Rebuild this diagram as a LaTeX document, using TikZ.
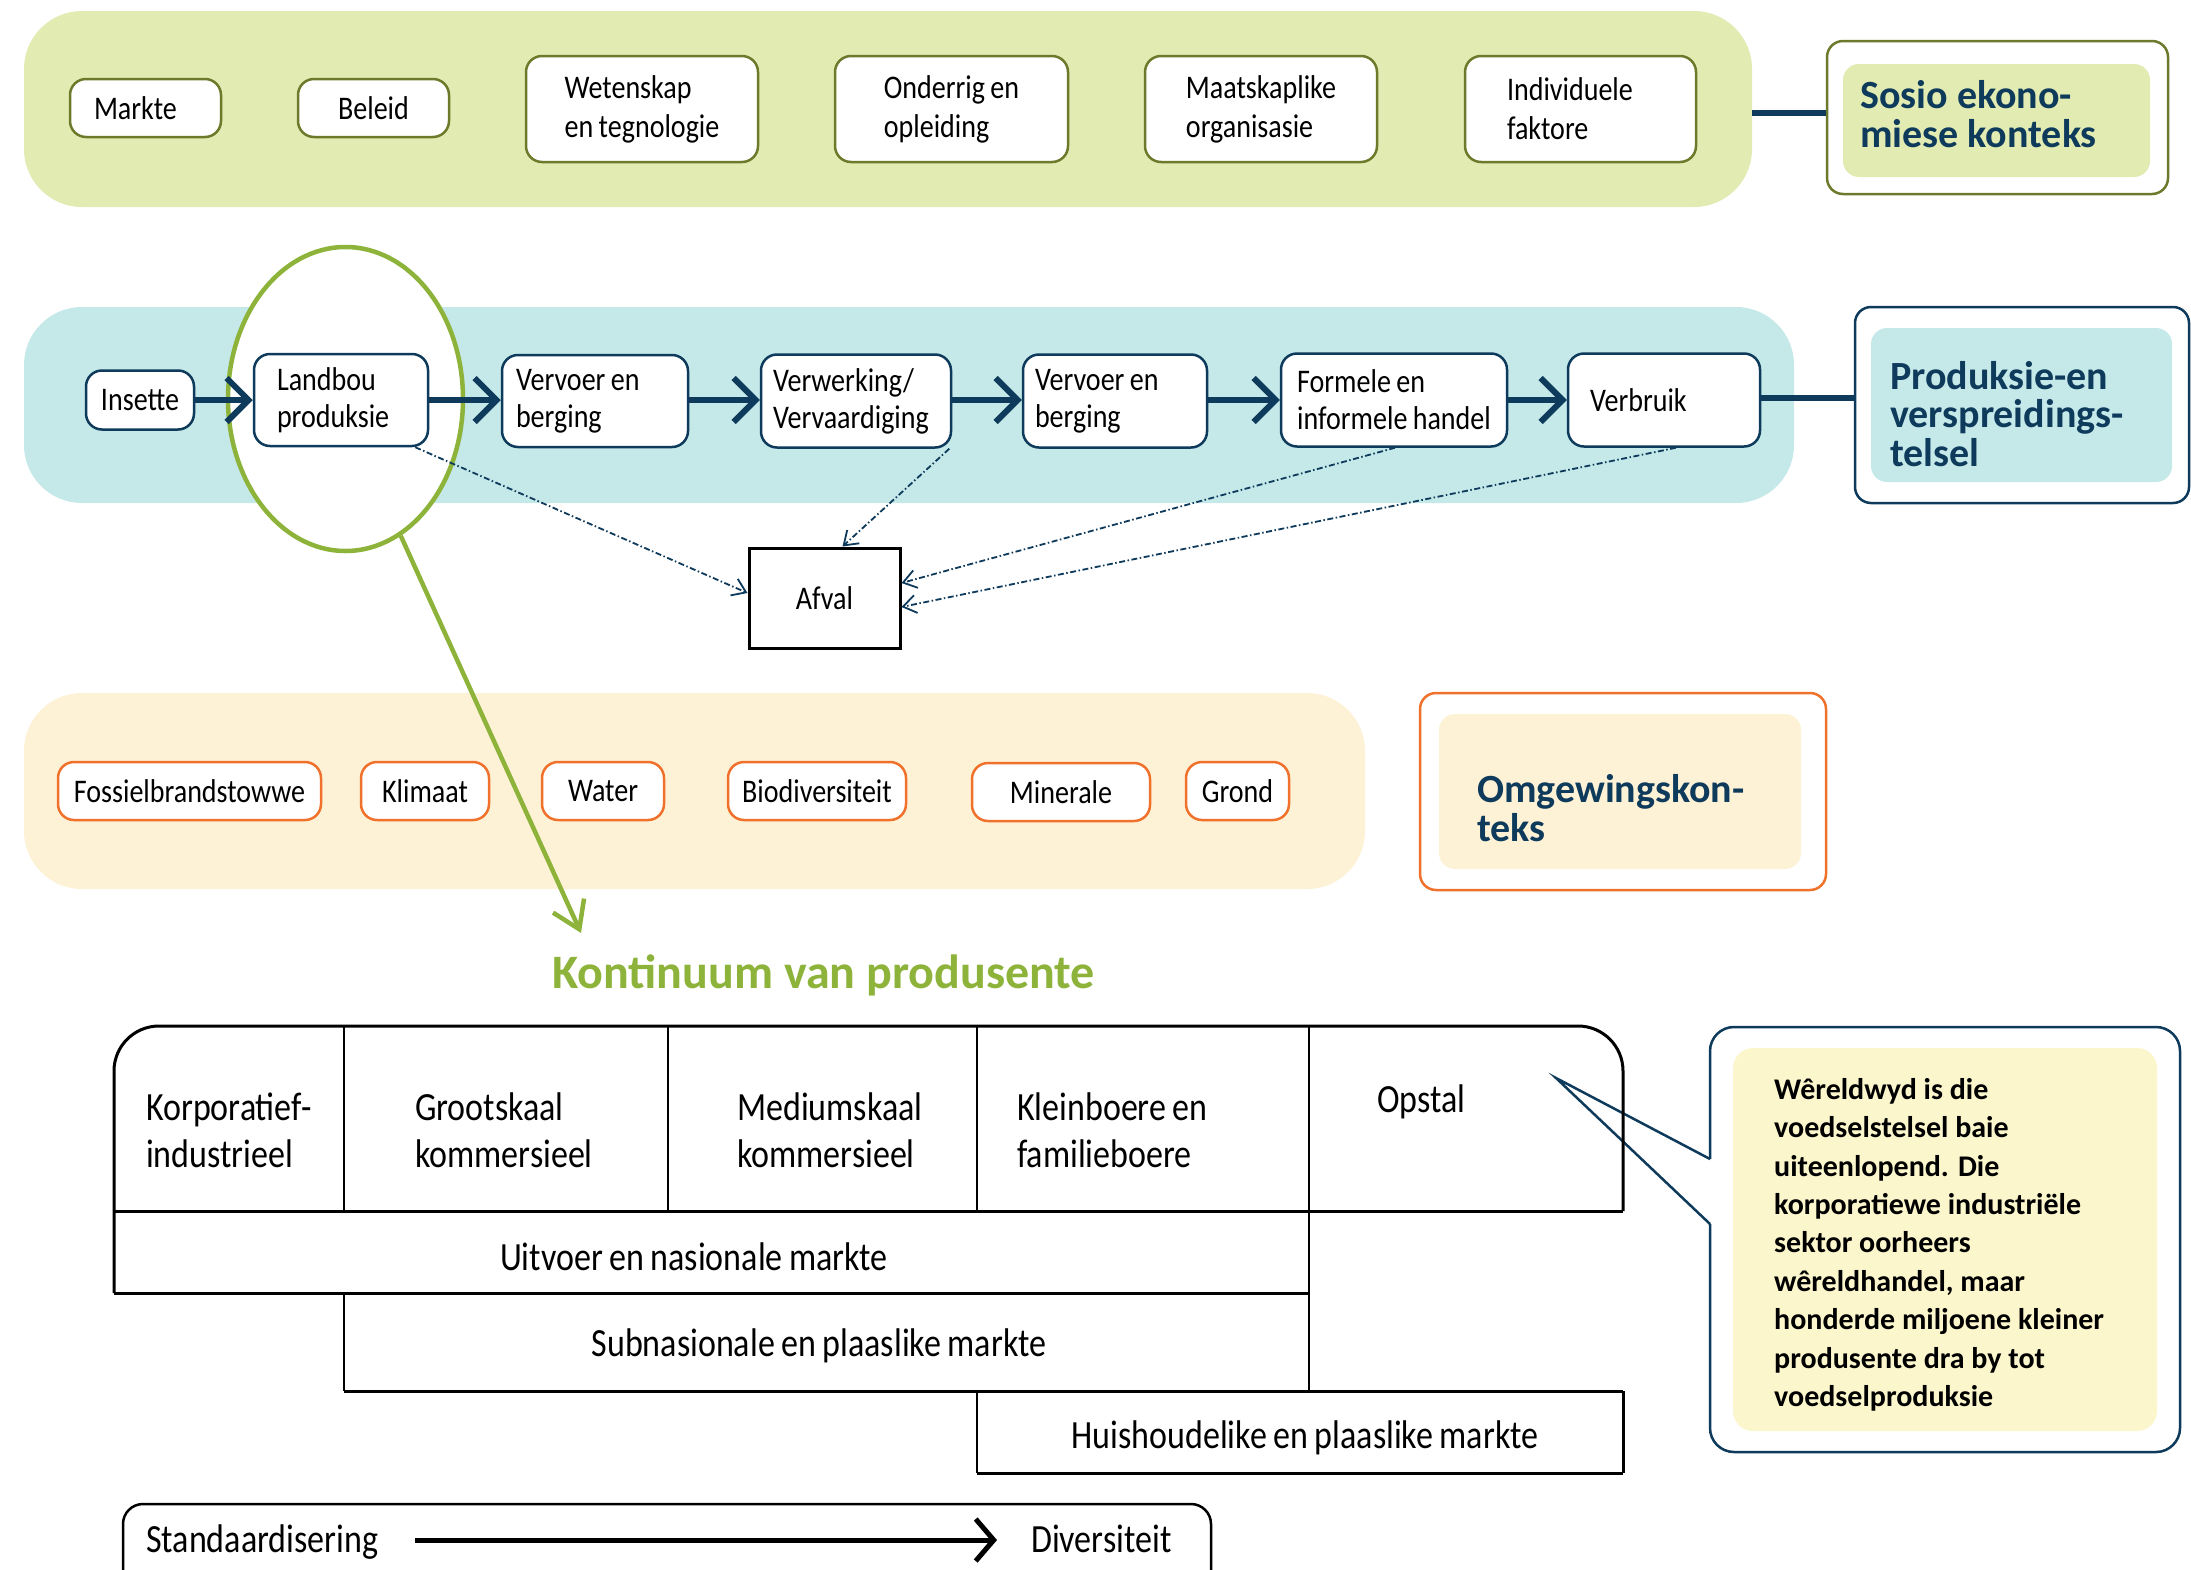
\documentclass[tikz,border=0pt]{standalone}
\usepackage{fontspec}
\setmainfont{Carlito}[FakeStretch=0.85, WordSpace=0.85]
\newfontfamily\hfont{Carlito}
\usetikzlibrary{arrows.meta,shapes.geometric,calc}
\definecolor{navy}{RGB}{14,58,91}
\definecolor{olivebd}{RGB}{109,122,44}
\definecolor{bandgreen}{RGB}{226,235,178}
\definecolor{bandteal}{RGB}{197,232,233}
\definecolor{bandcream}{RGB}{254,242,214}
\definecolor{orangebd}{RGB}{240,113,44}
\definecolor{leaf}{RGB}{141,179,58}
\definecolor{calloutfill}{RGB}{252,246,204}
\newcommand\fsz[2]{\fontsize{#1}{#2}\selectfont}
\tikzset{
  band/.style={fill=#1, draw=none, rounded corners=58pt, inner sep=0pt},
  topbox/.style={draw=olivebd, line width=2.5pt, fill=white, rounded corners=16pt, align=flush left, inner ysep=0pt, font=\fsz{33}{39}},
  midbox/.style={draw=navy, line width=2.5pt, fill=white, rounded corners=16pt, align=flush left, inner ysep=0pt, font=\fsz{33}{37}},
  envbox/.style={draw=orangebd, line width=2.5pt, fill=white, rounded corners=16pt, align=center, inner sep=0pt, minimum height=58pt, font=\fsz{33}{39}},
  ctxouter/.style={draw=#1, line width=2.5pt, fill=white, rounded corners=16pt, inner sep=0pt},
  ctxinner/.style={fill=#1, rounded corners=16pt, inner sep=0pt},
  ctxtext/.style={anchor=west, align=left, inner sep=0pt, text=navy, font=\hfont\bfseries\fsz{40}{38.5}},
  flow/.style={draw=navy, line width=6pt, -{Straight Barb[length=22pt,width=44pt]}},
  link/.style={draw=navy, line width=6pt},
  waste/.style={draw=navy, line width=1.8pt, dash pattern=on 6pt off 2.5pt on 1.5pt off 2.5pt, -{Straight Barb[length=13pt,width=18pt]}},
  lbl/.style={inner sep=0pt, align=left, font=\fsz{40}{47}},
  tline/.style={line width=3pt},
  tdiv/.style={line width=2pt},
}
\begin{document}
\begin{tikzpicture}[x=1pt,y=-1pt]
\useasboundingbox (0,0) rectangle (2191,1569);
\clip (0,0) rectangle (2191,1569);
\fill[white] (0,0) rectangle (2191,1569);

% ---------- socio-economic band ----------
\node[band=bandgreen, minimum width=1728pt, minimum height=196pt] (topband) at (888,109) {};
\node[topbox, text width=103pt, inner xsep=24pt, minimum height=58pt] (markte) at (145.5,108) {Markte};
\node[topbox, text width=91pt, inner xsep=30pt, minimum height=58pt, align=center] (beleid) at (373.5,108) {Beleid};
\node[topbox, inner xsep=0pt, minimum width=232pt, minimum height=106pt] (wet) at (642,109) {Wetenskap\\en tegnologie};
\node[topbox, inner xsep=0pt, minimum width=233pt, minimum height=106pt] (onder) at (951.5,109) {Onderrig en\\opleiding};
\node[topbox, inner xsep=0pt, minimum width=232pt, minimum height=106pt] (maat) at (1261,109) {Maatskaplike\\organisasie};
\node[topbox, text width=147pt, inner xsep=42pt, minimum height=106pt] (indiv) at (1580.5,109) {Individuele\\faktore};

\node[ctxouter=olivebd, minimum width=341pt, minimum height=153pt] (sosio) at (1997.5,117.5) {};
\node[ctxinner=bandgreen, minimum width=307pt, minimum height=113pt] (sosioin) at (1996.5,120.5) {};
\node[ctxtext] (sosiot) at (1860,114) {Sosio ekono-\\miese konteks};
\draw[link] (topband.east |- 0,113) -- (sosio.west |- 0,113);

% ---------- production band ----------
\node[band=bandteal, minimum width=1770pt, minimum height=196pt] (midband) at (909,405) {};
\node[draw=leaf, line width=4.5pt, fill=white, ellipse, minimum width=235pt, minimum height=304pt, inner sep=0pt] (ell) at (345.5,399) {};

\node[midbox, text width=88pt, inner xsep=10pt, minimum height=59pt, align=center] (insette) at (140,400) {Insette};
\node[midbox, text width=128pt, inner xsep=23pt, minimum height=92pt] (landbou) at (341,400) {Landbou\\produksie};
\node[midbox, text width=158pt, inner xsep=14pt, minimum height=92pt] (vervoer1) at (595,401) {Vervoer en\\berging};
\node[midbox, text width=166pt, inner xsep=12pt, minimum height=93pt] (verwerk) at (856,401) {Verwerking/\\Vervaardiging};
\node[midbox, text width=160pt, inner xsep=12pt, minimum height=93pt] (vervoer2) at (1115,401) {Vervoer en\\berging};
\node[midbox, inner xsep=0pt, minimum width=226pt, minimum height=93pt] (handel) at (1394,400) {Formele en\\informele handel};
\node[midbox, text width=148pt, inner xsep=22pt, minimum height=93pt] (verbruik) at (1664,400) {Verbruik};

\draw[flow] (insette.east) -- (landbou.west |- insette.east);
\draw[flow] (landbou.east) -- (vervoer1.west |- landbou.east);
\draw[flow] (vervoer1.east |- landbou.east) -- (verwerk.west |- landbou.east);
\draw[flow] (verwerk.east |- landbou.east) -- (vervoer2.west |- landbou.east);
\draw[flow] (vervoer2.east |- landbou.east) -- (handel.west |- landbou.east);
\draw[flow] (handel.east) -- (verbruik.west);

\node[ctxouter=navy, minimum width=334pt, minimum height=196pt] (prod) at (2022,405) {};
\node[ctxinner=bandteal, minimum width=301pt, minimum height=154pt] (prodin) at (2021.5,405) {};
\node[ctxtext] (prodt) at (1890,414) {Produksie-en\\verspreidings-\\telsel};
\draw[link] (verbruik.east |- 0,398) -- (prod.west |- 0,398);

\node[draw=black, line width=3pt, fill=white, minimum width=151pt, minimum height=100pt, font=\fsz{33}{39}] (afval) at (824.5,598) {Afval};
\draw[waste] ([xshift=-14pt]landbou.south east) -- ([yshift=5pt]afval.west);
\draw[waste] ([xshift=-3pt]verwerk.south east) -- ([xshift=18pt]afval.north);
\draw[waste] ([xshift=1pt]handel.south) -- ([yshift=15pt]afval.east);
\draw[waste] ([xshift=12pt]verbruik.south) -- ([yshift=-9pt]afval.east);

% ---------- environmental band ----------
\node[band=bandcream, minimum width=1341pt, minimum height=196pt] (botband) at (694.5,791) {};
\node[envbox, minimum width=263pt] (fossiel) at (189.5,791) {Fossielbrandstowwe};
\node[envbox, minimum width=128pt] (klimaat) at (425,791) {Klimaat};
\node[envbox, minimum width=122pt] (water) at (603,791) {Water};
\node[envbox, minimum width=178pt] (bio) at (817,791) {Biodiversiteit};
\node[envbox, minimum width=178pt] (minerale) at (1061,792) {Minerale};
\node[envbox, minimum width=103pt] (grond) at (1237.5,791) {Grond};

\node[ctxouter=orangebd, minimum width=406pt, minimum height=197pt] (omg) at (1623,791.5) {};
\node[ctxinner=bandcream, minimum width=362pt, minimum height=155pt] (omgin) at (1620,791.5) {};
\node[ctxtext] (omgt) at (1477,808) {Omgewingskon-\\teks};

% ---------- continuum ----------
\coordinate (ktip) at (581,933);
\draw[draw=leaf, line width=4.5pt, -{Straight Barb[length=26pt,width=34pt]}] (ell.-68.9) -- (ktip);
\node[anchor=base west, inner sep=0pt, text=leaf, font=\hfont\bfseries\fsz{48}{56}] (kont) at (552,988) {Kontinuum van produsente};

% callout
\coordinate (ctip) at (1556,1078);
\draw[draw=navy, line width=2.5pt, rounded corners=24pt] (1710,1159) -- (1710,1027) -- (2180,1027) -- (2180,1452) -- (1710,1452) -- (1710,1224);
\draw[draw=navy, line width=2.5pt] (1710,1159) -- (ctip) -- (1710,1224);
\node[fill=calloutfill, rounded corners=20pt, minimum width=424pt, minimum height=383pt, inner sep=0pt] (callin) at (1945,1239.5) {};
\node[anchor=north west, inner sep=0pt, align=left, font=\hfont\bfseries\fsz{30}{38.4}] (callt) at (1774,1078) {Wêreldwyd is die\\voedselstelsel baie\\uiteenlopend. Die\\korporatiewe industriële\\sektor oorheers\\wêreldhandel, maar\\honderde miljoene kleiner\\produsente dra by tot\\voedselproduksie};

% table
\draw[tline, rounded corners=45pt] (114,1293) -- (114,1026) -- (1623,1026) -- (1623,1211);
\draw[tline] (114,1211) -- (1623,1211);
\draw[tline] (114,1293) -- (1309,1293);
\draw[tline] (344,1391) -- (1623,1391);
\draw[tline] (977,1473) -- (1623,1473);
\draw[tline] (1623,1391) -- (1623,1473);
\draw[tdiv] (344,1026) -- (344,1211);
\draw[tdiv] (344,1293) -- (344,1391);
\draw[tdiv] (668,1026) -- (668,1211);
\draw[tdiv] (977,1026) -- (977,1211);
\draw[tdiv] (977,1391) -- (977,1473);
\draw[tdiv] (1309,1026) -- (1309,1391);

\node[lbl, anchor=west] (korp) at (146,1130) {Korporatief-\\industrieel};
\node[lbl, anchor=west] (groot) at (415,1130) {Grootskaal\\kommersieel};
\node[lbl, anchor=west] (medium) at (737,1130) {Mediumskaal\\kommersieel};
\node[lbl, anchor=west] (klein) at (1017,1130) {Kleinboere en\\familieboere};
\node[lbl, anchor=west] (opstal) at (1377,1102) {Opstal};
\node[lbl] (uitvoer) at (694,1257) {Uitvoer en nasionale markte};
\node[lbl] (subnas) at (819,1346) {Subnasionale en plaaslike markte};
\node[lbl] (huis) at (1305,1438) {Huishoudelike en plaaslike markte};

% standardisation bar
\node[draw=black, line width=2.5pt, rounded corners=20pt, minimum width=1088pt, minimum height=140pt, inner sep=0pt] (stdbox) at (667,1574) {};
\node[lbl, anchor=base west] (std) at (146,1552) {Standaardisering};
\node[lbl, anchor=base west] (div) at (1031,1552) {Diversiteit};
\draw[line width=5pt, -{Straight Barb[length=18pt,width=42pt]}, shorten <=37pt, shorten >=34pt] ([yshift=12pt]std.base east) -- ([yshift=12pt]div.base west);
\end{tikzpicture}
\end{document}
